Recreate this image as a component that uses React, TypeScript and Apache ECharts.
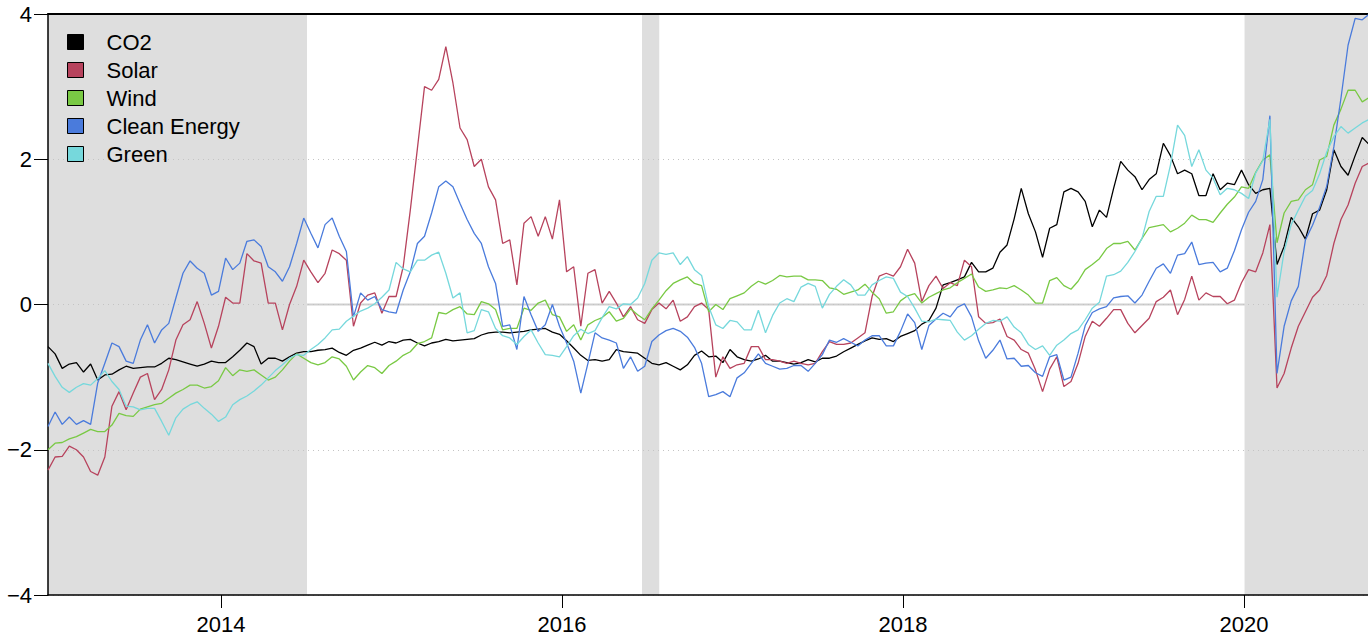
import React, { useEffect, useRef } from "react";
import * as echarts from "echarts";

// Semi-monthly observation grid (decimal years)
const START_YEAR = 2012.985;
const STEP_YEARS = 1 / 24;
const X_MIN = 2012.985;
const X_MAX = 2020.727;
const YEAR_TICKS = [2014, 2016, 2018, 2020];
const Y_MIN = -4;
const Y_MAX = 4;
const Y_STEP = 2;

// Shaded periods [start, end] in decimal years
const SHADED_PERIODS = [
  [2012.985, 2014.504],
  [2016.469, 2016.57],
  [2020.003, 2020.727],
];

const SERIES_NAMES = ["CO2", "Solar", "Wind", "Clean Energy", "Green"];
const SERIES_COLORS = ["#000000", "#b7435d", "#79c944", "#4a7bdc", "#76d8dc"];

const co2 = [
  -0.58, -0.68, -0.88, -0.82, -0.8, -0.93, -0.82, -1.04, -0.97, -0.96, -0.9, -0.85, -0.88, -0.87, -0.86, -0.86, -0.81, -0.74, -0.76, -0.79, -0.82, -0.85, -0.82, -0.78,
  -0.8, -0.8, -0.72, -0.63, -0.53, -0.58, -0.82, -0.74, -0.74, -0.78, -0.72, -0.67, -0.65, -0.65, -0.63, -0.62, -0.6, -0.66, -0.7, -0.63, -0.6, -0.56, -0.52, -0.56,
  -0.51, -0.53, -0.49, -0.48, -0.53, -0.57, -0.53, -0.51, -0.48, -0.5, -0.49, -0.48, -0.47, -0.42, -0.39, -0.38, -0.38, -0.39, -0.38, -0.37, -0.35, -0.34, -0.33,
  -0.38, -0.41, -0.5, -0.6, -0.7, -0.77, -0.76, -0.78, -0.76, -0.62, -0.65, -0.66, -0.67, -0.74, -0.81, -0.83, -0.8, -0.85, -0.9, -0.83, -0.7, -0.64, -0.72,
  -0.71, -0.8, -0.62, -0.72, -0.76, -0.78, -0.75, -0.7, -0.78, -0.78, -0.8, -0.82, -0.8, -0.76, -0.79, -0.74, -0.74, -0.71, -0.65, -0.6, -0.55, -0.5, -0.46,
  -0.48, -0.47, -0.51, -0.44, -0.4, -0.36, -0.27, -0.22, -0.05, 0.27, 0.3, 0.34, 0.38, 0.58, 0.45, 0.45, 0.5, 0.72, 0.82, 1.18, 1.6, 1.25, 1.0,
  0.65, 1.05, 1.1, 1.55, 1.6, 1.55, 1.42, 1.07, 1.3, 1.2, 1.6, 1.97, 1.85, 1.76, 1.58, 1.72, 1.8, 2.22, 2.05, 1.8, 1.85, 1.8, 1.5,
  1.5, 1.8, 1.58, 1.67, 1.65, 1.85, 1.65, 1.53, 1.58, 1.6, 0.55, 0.8, 1.2, 1.07, 0.9, 1.25, 1.3, 1.58, 2.13, 1.9, 1.78, 2.05, 2.3, 2.2,
];

const solar = [
  -2.28, -2.1, -2.09, -1.95, -2.0, -2.1, -2.3, -2.35, -2.1, -1.4, -1.2, -1.45, -1.22, -1.0, -0.95, -1.31, -1.17, -0.9, -0.49, -0.28, -0.21, 0.04, -0.26, -0.6,
  -0.3, 0.1, 0.02, 0.02, 0.7, 0.6, 0.57, 0.02, 0.02, -0.35, 0.0, 0.25, 0.61, 0.45, 0.3, 0.43, 0.75, 0.7, 0.61, -0.3, 0.02, 0.13, 0.16, -0.12,
  0.11, 0.11, 0.52, 1.3, 2.15, 3.0, 2.95, 3.1, 3.55, 3.05, 2.43, 2.27, 1.9, 2.0, 1.62, 1.44, 0.84, 0.89, 0.27, 1.12, 1.21, 0.94, 1.21,
  0.9, 1.44, 0.45, 0.52, -0.3, 0.43, 0.48, 0.02, 0.18, 0.02, -0.17, -0.03, -0.21, -0.26, -0.07, 0.02, -0.06, 0.06, -0.23, -0.17, -0.03, 0.02, -0.07,
  -1.0, -0.72, -0.88, -0.83, -0.81, -0.58, -0.58, -0.76, -0.76, -0.78, -0.81, -0.78, -0.81, -0.83, -0.81, -0.65, -0.51, -0.55, -0.55, -0.53, -0.46, -0.39, 0.11,
  0.39, 0.43, 0.39, 0.52, 0.76, 0.57, 0.04, 0.26, 0.39, 0.22, 0.3, 0.26, 0.61, 0.52, -0.17, -0.26, -0.25, -0.2, -0.44, -0.49, -0.62, -0.67, -0.9,
  -1.2, -0.89, -0.72, -1.13, -1.06, -0.81, -0.44, -0.23, -0.3, -0.19, -0.07, -0.07, -0.26, -0.39, -0.29, -0.19, 0.04, 0.1, 0.2, -0.14, 0.07, 0.39, 0.06,
  0.16, 0.11, 0.11, 0.01, 0.06, 0.3, 0.48, 0.45, 0.71, 1.1, -1.15, -0.95, -0.6, -0.3, -0.1, 0.1, 0.2, 0.4, 0.84, 1.17, 1.37, 1.67, 1.9, 1.95,
];

const wind = [
  -2.0, -1.91, -1.9, -1.85, -1.82, -1.77, -1.72, -1.75, -1.75, -1.66, -1.5, -1.53, -1.54, -1.44, -1.41, -1.38, -1.36, -1.29, -1.22, -1.17, -1.11, -1.11, -1.15, -1.13,
  -1.05, -0.87, -0.98, -0.9, -0.92, -0.9, -0.97, -1.04, -1.0, -0.9, -0.78, -0.68, -0.74, -0.8, -0.83, -0.8, -0.72, -0.75, -0.85, -1.04, -0.93, -0.84, -0.87, -0.95,
  -0.84, -0.78, -0.7, -0.65, -0.54, -0.51, -0.46, -0.11, -0.13, -0.07, -0.03, -0.13, -0.14, 0.04, 0.01, -0.07, -0.35, -0.33, -0.33, -0.05, -0.08, 0.02, 0.06,
  -0.14, -0.17, -0.37, -0.28, -0.49, -0.28, -0.22, -0.18, -0.1, -0.23, -0.19, -0.06, -0.14, -0.21, -0.06, 0.06, 0.19, 0.29, 0.34, 0.38, 0.29, 0.26, -0.1,
  0.0, -0.07, 0.08, 0.12, 0.16, 0.25, 0.32, 0.28, 0.33, 0.4, 0.38, 0.39, 0.39, 0.34, 0.34, 0.33, 0.23, 0.21, 0.14, 0.17, 0.2, 0.28, 0.17,
  0.08, -0.12, -0.1, 0.05, 0.12, 0.15, 0.02, 0.1, 0.15, 0.2, 0.23, 0.3, 0.36, 0.42, 0.24, 0.18, 0.2, 0.23, 0.22, 0.26, 0.2, 0.13, 0.02,
  0.02, 0.33, 0.37, 0.26, 0.21, 0.32, 0.48, 0.55, 0.63, 0.77, 0.84, 0.84, 0.87, 0.75, 0.91, 1.06, 1.08, 1.1, 1.0, 1.05, 1.12, 1.23, 1.17,
  1.17, 1.13, 1.26, 1.38, 1.48, 1.62, 1.6, 1.82, 1.99, 2.06, 0.85, 1.26, 1.42, 1.44, 1.58, 1.65, 1.99, 2.04, 2.47, 2.69, 2.95, 2.95, 2.79, 2.85,
];

const cleanEnergy = [
  -1.68, -1.48, -1.65, -1.55, -1.65, -1.6, -1.65, -1.08, -0.81, -0.53, -0.58, -0.78, -0.81, -0.49, -0.28, -0.53, -0.35, -0.26, 0.09, 0.43, 0.6, 0.5, 0.43, 0.13,
  0.18, 0.64, 0.48, 0.57, 0.87, 0.89, 0.8, 0.52, 0.45, 0.32, 0.52, 0.84, 1.19, 0.98, 0.78, 1.1, 1.19, 0.94, 0.73, -0.17, 0.16, 0.06, 0.11, -0.07,
  -0.1, -0.12, 0.2, 0.45, 0.84, 0.94, 1.26, 1.62, 1.7, 1.62, 1.39, 1.17, 0.98, 0.84, 0.52, 0.29, -0.3, -0.28, -0.62, 0.11, -0.14, -0.37, -0.28,
  0.0, -0.3, -0.53, -0.78, -1.22, -0.81, -0.39, -0.46, -0.49, -0.53, -0.88, -0.72, -0.92, -0.85, -0.51, -0.42, -0.36, -0.33, -0.37, -0.45, -0.59, -0.81, -1.27,
  -1.24, -1.2, -1.27, -1.01, -0.94, -0.81, -0.68, -0.81, -0.85, -0.89, -0.88, -0.84, -0.84, -0.92, -0.81, -0.69, -0.49, -0.52, -0.47, -0.52, -0.57, -0.49, -0.43,
  -0.43, -0.57, -0.57, -0.37, -0.13, -0.25, -0.62, -0.29, -0.2, -0.12, -0.17, -0.04, 0.01, -0.17, -0.5, -0.74, -0.63, -0.49, -0.75, -0.74, -0.85, -0.84, -0.94,
  -0.99, -0.72, -0.69, -1.04, -1.0, -0.67, -0.29, -0.11, -0.06, -0.03, 0.09, 0.11, 0.12, 0.02, 0.13, 0.32, 0.5, 0.56, 0.43, 0.68, 0.7, 0.86, 0.55,
  0.57, 0.58, 0.45, 0.5, 0.74, 1.03, 1.27, 1.42, 1.72, 2.6, -0.95, -0.3, 0.05, 0.25, 0.89, 1.09, 1.34, 1.63, 2.17, 2.84, 3.57, 3.94, 3.92, 4.0,
];

const green = [
  -0.81, -0.99, -1.14, -1.21, -1.14, -1.09, -1.11, -1.02, -0.91, -1.06, -1.17, -1.4, -1.41, -1.45, -1.43, -1.43, -1.61, -1.8, -1.56, -1.44, -1.38, -1.34, -1.43, -1.51,
  -1.61, -1.55, -1.38, -1.31, -1.26, -1.19, -1.11, -1.01, -0.91, -0.83, -0.74, -0.69, -0.7, -0.62, -0.55, -0.46, -0.35, -0.34, -0.23, -0.16, -0.09, -0.05, 0.01, 0.1,
  0.2, 0.58, 0.49, 0.45, 0.61, 0.61, 0.68, 0.72, 0.43, 0.09, 0.16, -0.39, -0.36, -0.07, -0.1, -0.33, -0.43, -0.46, -0.55, -0.44, -0.35, -0.53, -0.69,
  -0.7, -0.72, -0.58, -0.43, -0.34, -0.4, -0.36, -0.18, -0.03, -0.06, 0.01, 0.0, 0.09, 0.29, 0.61, 0.71, 0.69, 0.71, 0.55, 0.66, 0.48, 0.4, -0.03,
  -0.28, -0.33, -0.22, -0.24, -0.35, -0.35, -0.08, -0.39, -0.15, 0.02, 0.08, 0.04, 0.24, 0.29, 0.25, -0.05, 0.14, 0.25, 0.34, 0.27, 0.13, 0.13, 0.27,
  0.33, 0.38, 0.36, 0.17, 0.11, -0.05, -0.23, -0.24, -0.2, -0.21, -0.22, -0.38, -0.49, -0.43, -0.34, -0.26, -0.22, -0.23, -0.17, -0.31, -0.39, -0.55, -0.62,
  -0.57, -0.7, -0.56, -0.49, -0.4, -0.35, -0.21, -0.05, 0.03, 0.39, 0.41, 0.46, 0.58, 0.73, 0.91, 1.28, 1.49, 1.49, 1.92, 2.47, 2.33, 1.9, 2.13,
  1.85, 1.74, 1.51, 1.6, 1.58, 1.53, 1.46, 1.81, 1.98, 2.55, 0.1, 0.73, 1.1, 1.3, 1.49, 1.57, 1.8, 2.1, 2.31, 2.45, 2.36, 2.43, 2.5, 2.55,
];

const SERIES_VALUES = [co2, solar, wind, cleanEnergy, green];

const FONT = "'Liberation Sans', Arial, Helvetica, sans-serif";

function toPairs(values: number[]) {
  return values.map((v, k) => [START_YEAR + k * STEP_YEARS, v]);
}

function formatY(v: number) {
  return v < 0 ? "\u2212" + Math.abs(v) : String(v);
}

export default function App() {
  const ref = useRef<HTMLDivElement>(null);

  useEffect(() => {
    if (!ref.current) return;
    const chart = echarts.init(ref.current, null, { renderer: "svg" });

    const dataSeries = SERIES_NAMES.map((name, i) => ({
      name,
      type: "line",
      data: toPairs(SERIES_VALUES[i]),
      showSymbol: false,
      symbol: "none",
      color: SERIES_COLORS[i],
      lineStyle: { color: SERIES_COLORS[i], width: 1.3 },
      itemStyle: { color: SERIES_COLORS[i] },
      z: 5,
      silent: true,
      clip: true,
      emphasis: { disabled: true },
    }));

    const option: any = {
      animation: false,
      textStyle: { fontFamily: FONT },
      grid: { left: 48, right: 0, top: 14, bottom: 46, containLabel: false },
      legend: {
        data: SERIES_NAMES,
        orient: "vertical",
        left: 67,
        top: 30,
        padding: 0,
        icon: "rect",
        itemWidth: 16,
        itemHeight: 15,
        itemGap: 4,
        selectedMode: false,
        itemStyle: { borderColor: "#000", borderWidth: 1 },
        textStyle: {
          fontSize: 22,
          color: "#000",
          fontFamily: FONT,
          lineHeight: 24,
          padding: [0, 0, 0, 18],
        },
      },
      xAxis: [
        {
          type: "value",
          min: X_MIN,
          max: X_MAX,
          z: 3,
          axisLine: { show: true, onZero: false, lineStyle: { color: "#000", width: 1.5 } },
          axisTick: { show: true, length: 13, customValues: YEAR_TICKS, lineStyle: { color: "#000", width: 1 } },
          axisLabel: {
            customValues: YEAR_TICKS,
            margin: 18,
            fontSize: 22,
            color: "#000",
            fontFamily: FONT,
            formatter: (v: number) => String(Math.round(v)),
          },
          splitLine: { show: false },
        },
        {
          type: "value",
          position: "top",
          min: X_MIN,
          max: X_MAX,
          z: 3,
          axisLine: { show: true, onZero: false, lineStyle: { color: "#000", width: 2 } },
          axisTick: { show: false },
          axisLabel: { show: false },
          splitLine: { show: false },
        },
      ],
      yAxis: {
        type: "value",
        min: Y_MIN,
        max: Y_MAX,
        interval: Y_STEP,
        z: 3,
        axisLine: { show: true, onZero: false, lineStyle: { color: "#000", width: 1.5 } },
        axisTick: { show: true, length: 14, lineStyle: { color: "#000", width: 1 } },
        axisLabel: { margin: 16, fontSize: 22, color: "#000", fontFamily: FONT, formatter: formatY },
        splitLine: { show: true, lineStyle: { color: "#c4c4c4", width: 1, type: [1, 4] } },
      },
      series: [
        {
          name: "zeroLine",
          type: "line",
          data: [
            [X_MIN, 0],
            [X_MAX, 0],
          ],
          showSymbol: false,
          symbol: "none",
          lineStyle: { color: "#cfcfcf", width: 2 },
          z: 1,
          silent: true,
          emphasis: { disabled: true },
        },
        {
          name: "shading",
          type: "custom",
          z: 2,
          silent: true,
          data: SHADED_PERIODS,
          encode: { x: [0, 1] },
          renderItem: (params: any, api: any) => {
            const cs = params.coordSys;
            const a = api.coord([api.value(0), 0])[0];
            const b = api.coord([api.value(1), 0])[0];
            return {
              type: "rect",
              shape: { x: a, y: cs.y, width: b - a, height: cs.height },
              style: { fill: "#dedede" },
            };
          },
        },
        ...dataSeries,
      ],
    };

    chart.setOption(option);
    return () => {
      chart.dispose();
    };
  }, []);

  return (
    <div
      ref={ref}
      style={{ position: "absolute", left: 0, top: 0, width: "1368px", height: "641px" }}
    />
  );
}
